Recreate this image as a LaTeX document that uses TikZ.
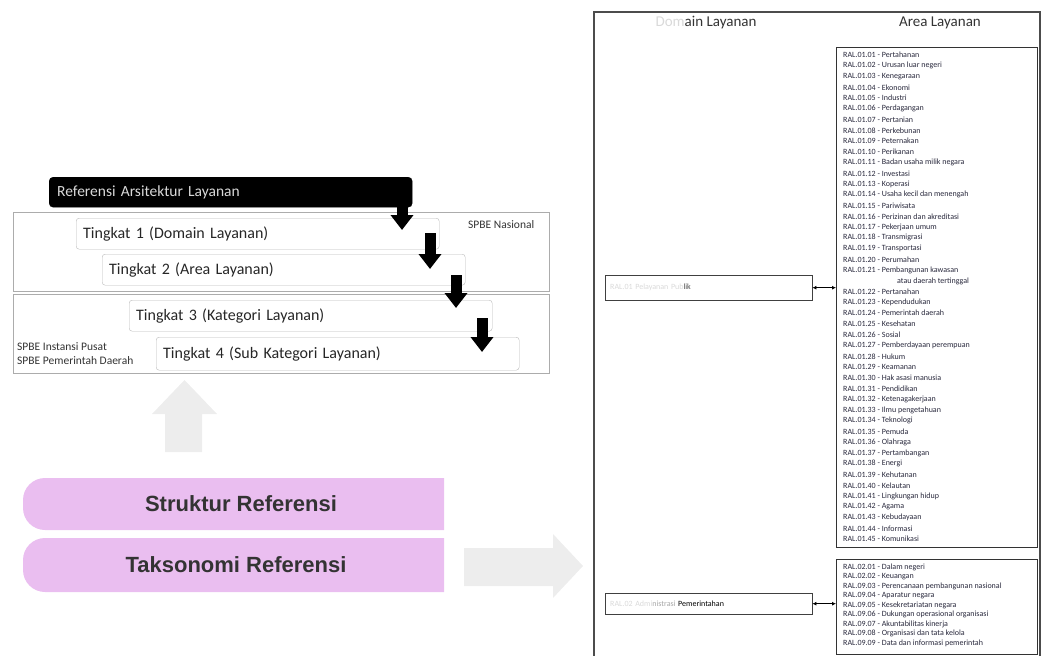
\documentclass[tikz,border=0pt]{standalone}
\usepackage{fontspec}
\setmainfont{Carlito}
\newfontfamily\barfont{Liberation Sans}
\usetikzlibrary{arrows.meta}
\definecolor{barpink}{RGB}{234,190,240}
\definecolor{fadegray}{RGB}{237,237,237}
\definecolor{itemtext}{RGB}{40,40,60}
\begin{document}
\begin{tikzpicture}[x=1pt,y=-1pt, every node/.style={font=\fontsize{8}{9.6}\selectfont,inner sep=0pt},
  tbox/.style={draw=gray!55,rounded corners=3pt,minimum width=363pt,minimum height=31pt,anchor=north west,
    text width=349pt,inner xsep=7pt,align=left,font=\fontsize{16}{19}\selectfont,text=black!85},
  zone/.style={draw=gray!65,anchor=north west,minimum width=536pt,minimum height=79pt},
  lbl/.style={anchor=west,font=\fontsize{11.5}{13}\selectfont,text=black!80},
  item/.style={anchor=west,text=itemtext},
  dbox/.style={draw=black!75,anchor=north west,minimum width=207pt,text width=197pt,inner xsep=5pt,align=left},
  hdr/.style={font=\fontsize{15}{18}\selectfont,text=black!80},
  bartext/.style={font=\barfont\bfseries\fontsize{22}{26}\selectfont,text=black!80},
  down/.style={line width=11pt,-{Triangle[width=22pt,length=15pt]}}]
\useasboundingbox (0,0) rectangle (1042,656);
% levels
\node[zone] (nas) at (13,212) {};
\node[zone] (pus) at (13,294) {};
\node[draw,fill=black,rounded corners=4pt,anchor=north west,minimum width=363pt,minimum height=30pt,
  text width=347pt,inner xsep=8pt,align=left,font=\fontsize{15.5}{18}\selectfont,text=gray!30] (ral) at (49,177) {Referensi Arsitektur Layanan};
\node[tbox] (t1) at (76,218) {Tingkat 1 (Domain Layanan)};
\node[tbox] (t2) at (102,254) {Tingkat 2 (Area Layanan)};
\node[tbox] (t3) at (129,300) {Tingkat 3 (Kategori Layanan)};
\node[tbox,minimum height=33pt] (t4) at (156,337) {Tingkat 4 (Sub Kategori Layanan)};
\node[lbl] (snas) at (468,225) {SPBE Nasional};
\node[lbl] (spus) at (17,347) {SPBE Instansi Pusat};
\node[lbl] (spem) at (17,361) {SPBE Pemerintah Daerah};
\coordinate (a1) at (402,207); \coordinate (b1) at (402,230);
\coordinate (a2) at (430,233); \coordinate (b2) at (430,269);
\coordinate (a3) at (456,275); \coordinate (b3) at (456,308);
\coordinate (a4) at (482,318); \coordinate (b4) at (482,352);
\foreach \i in {1,...,4} {\draw[down] (a\i) -- (b\i);}
% struktur / taksonomi
\fill[fadegray] (165,452) -- (165,414) -- (152,414) -- (184.5,380) -- (217,414) -- (202,414) -- (202,452) -- cycle;
\fill[barpink] (444,530) -- (444,478) [rounded corners=22pt] -- (23,478) -- (23,530) [sharp corners] -- cycle;
\fill[barpink] (444,592) -- (444,538) [rounded corners=22pt] -- (23,538) -- (23,592) [sharp corners] -- cycle;
\node[bartext] (struk) at (241,504) {Struktur Referensi};
\node[bartext] (takso) at (236,565) {Taksonomi Referensi};
\fill[fadegray] (464,548) -- (553,548) -- (553,534) -- (583,566) -- (553,598) -- (553,586) -- (464,586) -- cycle;
% taksonomi panel
\draw[black!70,line width=1.2pt] (594,660) -- (594,12) -- (1040,12) -- (1040,660);
\node[hdr] (hdom) at (706,23) {{\color{gray!30}Dom}ain Layanan};
\node[hdr] (harea) at (940,23) {Area Layanan};
\node[draw=black!80,anchor=north west,minimum width=201pt,minimum height=500pt] (list1) at (836,47) {};
\node[draw=black!80,anchor=north west,minimum width=201pt,minimum height=95pt] (list2) at (836,559) {};
\foreach \cd/\tx [count=\k from 0] in {01/Pertahanan,02/Urusan luar negeri,03/Kenegaraan,04/Ekonomi,05/Industri,
  06/Perdagangan,07/Pertanian,08/Perkebunan,09/Peternakan,10/Perikanan,11/Badan usaha milik negara,12/Investasi,
  13/Koperasi,14/Usaha kecil dan menengah,15/Pariwisata,16/Perizinan dan akreditasi,17/Pekerjaan umum,
  18/Transmigrasi,19/Transportasi,20/Perumahan,21/Pembangunan kawasan}
  {\node[item] (la\k) at (843,55+\k*10.76) {RAL.01.\cd{} - \tx};}
\node[item] (lacont) at (897,55+21*10.76) {atau daerah tertinggal};
\foreach \cd/\tx [count=\k from 22] in {22/Pertanahan,23/Kependudukan,24/Pemerintah daerah,25/Kesehatan,26/Sosial,
  27/Pemberdayaan perempuan,28/Hukum,29/Keamanan,30/Hak asasi manusia,31/Pendidikan,32/Ketenagakerjaan,
  33/Ilmu pengetahuan,34/Teknologi,35/Pemuda,36/Olahraga,37/Pertambangan,38/Energi,39/Kehutanan,40/Kelautan,
  41/Lingkungan hidup,42/Agama,43/Kebudayaan,44/Informasi,45/Komunikasi}
  {\node[item] (la\k) at (843,55+\k*10.76) {RAL.01.\cd{} - \tx};}
\foreach \cd/\tx [count=\k from 0] in {02.01/Dalam negeri,02.02/Keuangan,09.03/Perencanaan pembangunan nasional,
  09.04/Aparatur negara,09.05/Kesekretariatan negara,09.06/Dukungan operasional organisasi,
  09.07/Akuntabilitas kinerja,09.08/Organisasi dan tata kelola,09.09/Data dan informasi pemerintah}
  {\node[item] (lb\k) at (843,567+\k*9.5) {RAL.\cd{} - \tx};}
\node[dbox,minimum height=25pt] (dom1) at (605,275) {{\color{gray!30}RAL.01 Pelayanan Pub}{\color{black!70}lik}};
\node[dbox,minimum height=21pt] (dom2) at (605,593) {{\color{gray!30}RAL.02 Admi}{\color{gray!70}nistrasi} Pemerintahan};
\draw[{Latex[length=4pt,width=4pt]}-{Latex[length=4pt,width=4pt]},line width=1pt] (dom1.east) -- (dom1.east -| list1.west);
\draw[{Latex[length=4pt,width=4pt]}-{Latex[length=4pt,width=4pt]},line width=1pt] (dom2.east) -- (dom2.east -| list2.west);
\end{tikzpicture}
\end{document}
